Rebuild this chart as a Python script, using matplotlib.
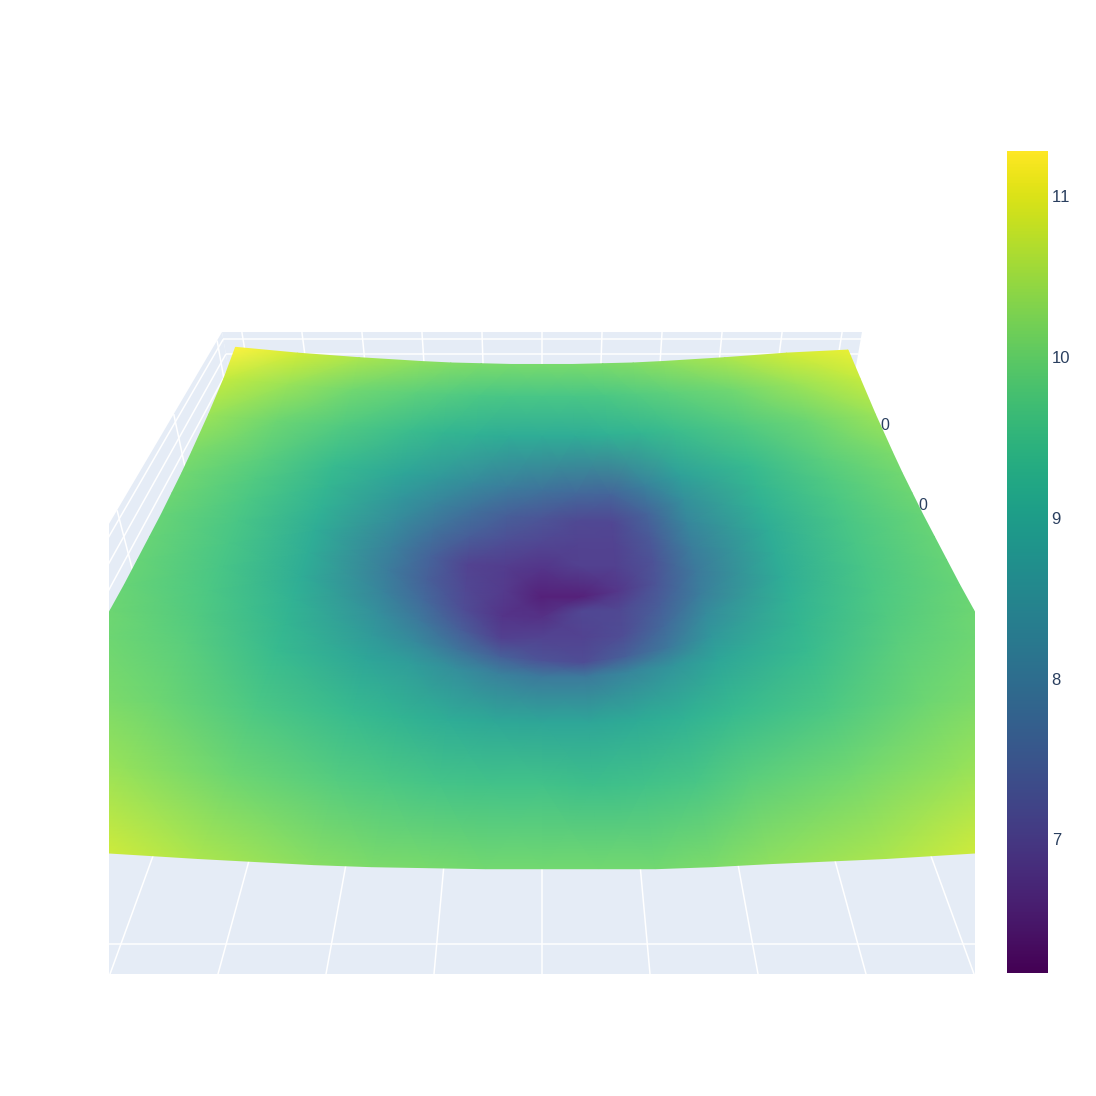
import numpy as np
import matplotlib
matplotlib.use("Agg")
import matplotlib.pyplot as plt
from matplotlib.colors import ListedColormap
from matplotlib.patches import Rectangle, Polygon

plt.rcParams['font.family'] = ['Liberation Sans', 'DejaVu Sans']
plt.rcParams['text.kerning_factor'] = 6

# ---- data ----
x_values = [-5, -4, -3, -2, -1.5, -1, -0.5, 0, 0.5, 1, 1.5, 2, 3, 4, 5]
y_values = [-5.1, -4, -3, -2, -1.5, -1, -0.5, 0, 0.5, 1, 1.5, 2, 3, 4, 4.85]
z_row_m5   = [11.20, 10.95, 10.60, 10.30, 10.20, 10.15, 10.10, 10.10, 10.10, 10.10, 10.20, 10.35, 10.60, 10.95, 11.10]
z_row_m4   = [10.70, 10.40, 10.05, 9.80, 9.70, 9.60, 9.55, 9.55, 9.50, 9.55, 9.65, 9.85, 10.10, 10.40, 10.70]
z_row_m3   = [10.30, 10.05, 9.70, 9.40, 9.25, 9.10, 9.00, 8.95, 8.95, 9.05, 9.20, 9.40, 9.70, 10.05, 10.30]
z_row_m2   = [10.10, 9.85, 9.40, 8.95, 8.75, 8.45, 8.15, 8.00, 8.00, 8.25, 8.60, 8.95, 9.40, 9.85, 10.10]
z_row_m1_5 = [10.05, 9.75, 9.30, 8.70, 8.35, 7.90, 7.50, 7.25, 7.15, 7.50, 8.00, 8.65, 9.30, 9.75, 10.05]
z_row_m1   = [10.00, 9.70, 9.20, 8.45, 8.00, 7.45, 6.95, 7.00, 7.00, 7.15, 7.70, 8.40, 9.20, 9.70, 10.00]
z_row_m0_5 = [10.00, 9.65, 9.10, 8.20, 7.70, 7.15, 6.75, 6.70, 7.05, 7.10, 7.45, 8.10, 9.10, 9.65, 10.00]
z_row_0    = [10.00, 9.65, 9.10, 8.05, 7.50, 7.05, 6.85, 6.45, 6.45, 6.80, 7.30, 8.00, 9.10, 9.65, 10.00]
z_row_p0_5 = [10.00, 9.65, 9.10, 8.15, 7.55, 7.00, 6.90, 6.75, 6.95, 6.95, 7.25, 8.10, 9.10, 9.65, 10.00]
z_row_p1   = [10.05, 9.70, 9.20, 8.40, 7.90, 7.45, 7.20, 7.05, 7.00, 7.00, 7.40, 8.30, 9.20, 9.70, 10.05]
z_row_p1_5 = [10.10, 9.75, 9.30, 8.65, 8.25, 7.85, 7.50, 7.30, 7.10, 7.05, 7.60, 8.50, 9.30, 9.75, 10.10]
z_row_p2   = [10.20, 9.85, 9.40, 8.95, 8.70, 8.40, 8.10, 7.90, 7.70, 7.60, 8.20, 8.85, 9.40, 9.85, 10.20]
z_row_p3   = [10.45, 10.05, 9.75, 9.45, 9.30, 9.20, 9.10, 9.10, 9.10, 9.20, 9.30, 9.45, 9.75, 10.05, 10.45]
z_row_p4   = [10.80, 10.45, 10.10, 9.90, 9.80, 9.70, 9.65, 9.65, 9.65, 9.70, 9.80, 9.90, 10.10, 10.45, 10.80]
z_row_p5   = [11.28, 10.90, 10.60, 10.35, 10.25, 10.20, 10.15, 10.15, 10.15, 10.20, 10.25, 10.35, 10.60, 10.90, 11.10]
z_rows = [z_row_m5, z_row_m4, z_row_m3, z_row_m2, z_row_m1_5, z_row_m1, z_row_m0_5, z_row_0,
          z_row_p0_5, z_row_p1, z_row_p1_5, z_row_p2, z_row_p3, z_row_p4, z_row_p5]
x_ticks = [-5, -4, -3, -2, -1, 0, 1, 2, 3, 4, 5]
y_ticks = [-5, -2.5, 0, 2.5, 5]
z_ticks = [6, 7, 8, 9, 10, 11]
cbar_ticks = [7, 8, 9, 10, 11]

# ---- scene set-up: a perspective camera ----
XY_MAX = 5.33
Z_LOW, Z_HIGH = 5.59, 11.47
CMIN, CMAX = 6.17, 11.28
GRID = 'white'
WALL = '#E5ECF6'
INK = '#2a3f5f'

# the surface is lit, so it reads a little brighter than the colour bar
base = plt.get_cmap('viridis')(np.linspace(0, 1, 256))[:, :3]
lit = base + np.c_[0.07 * (1 - base[:, 0]), 0.045 * np.ones(256), 0.12 * (1 - base[:, 2])]
surface_cmap = ListedColormap(np.clip(lit, 0, 1))


def project(x, y, z):
    x, y, z = np.asarray(x, float), np.asarray(y, float), np.asarray(z, float)
    zn = (z - Z_LOW) / (Z_HIGH - Z_LOW)
    w = 1.0256 + 0.0834 * (y + 5) - 0.088 * zn
    return 542 + 108 * x / w, -211 + (1185 - 208 * zn) / w


fig = plt.figure(figsize=(10.96, 10.96), dpi=100)
ax = fig.add_axes([0, 0, 1, 1])
ax.set_xlim(0, 1096)
ax.set_ylim(1096, 0)
ax.axis('off')
clip = Rectangle((109, 300), 866, 674, transform=ax.transData)


def face(x, y, z):
    px, py = project(x, y, z)
    patch = ax.add_patch(Polygon(np.c_[px, py], closed=True, fc=WALL, ec='none', zorder=1))
    patch.set_clip_path(clip)


def gridline(x, y, z):
    t = np.linspace(0, 1, 2)
    px, py = project(x[0] + t * (x[1] - x[0]), y[0] + t * (y[1] - y[0]), z[0] + t * (z[1] - z[0]))
    line, = ax.plot(px, py, color=GRID, lw=1.1, zorder=2, solid_capstyle='butt')
    line.set_clip_path(clip)


M = XY_MAX
face([-M, M, M, -M], [-M, -M, M, M], [Z_LOW] * 4)
face([-M, M, M, -M], [M, M, M, M], [Z_LOW, Z_LOW, Z_HIGH, Z_HIGH])
face([-M, -M, -M, -M], [-M, M, M, -M], [Z_LOW, Z_LOW, Z_HIGH, Z_HIGH])

for v in x_ticks:
    gridline([v, v], [-M, M], [Z_LOW, Z_LOW])
    gridline([v, v], [M, M], [Z_LOW, Z_HIGH])
for v in y_ticks:
    gridline([-M, M], [v, v], [Z_LOW, Z_LOW])
    gridline([-M, -M], [v, v], [Z_LOW, Z_HIGH])
for v in z_ticks:
    gridline([-M, M], [M, M], [v, v])
    gridline([-M, -M], [-M, M], [v, v])

ax.text(889, 426, '0', color=INK, fontsize=11.5, ha='right', va='center', zorder=3)
ax.text(927, 506, '0', color=INK, fontsize=11.5, ha='right', va='center', zorder=3)

X, Y = np.meshgrid(x_values, y_values)
Z = np.array(z_rows)
PX, PY = project(X, Y, Z)
mesh = ax.pcolormesh(PX, PY, Z, shading='gouraud', cmap=surface_cmap, vmin=CMIN, vmax=CMAX, zorder=4)
mesh.set_clip_path(clip)

cax = fig.add_axes([1006.5 / 1096, 1 - 973 / 1096, 41 / 1096, 822 / 1096])
cax.imshow(np.linspace(CMAX, CMIN, 512)[:, None], aspect='auto', cmap='viridis', vmin=CMIN, vmax=CMAX,
           extent=[0, 1, CMIN, CMAX], origin='upper')
cax.set_xticks([])
cax.yaxis.tick_right()
cax.set_yticks(cbar_ticks)
cax.set_yticklabels([str(t) for t in cbar_ticks])
cax.tick_params(axis='y', length=0, pad=3.0, labelsize=12, labelcolor=INK)
for s in cax.spines.values():
    s.set_visible(False)

fig.savefig('out.png', dpi=100)
